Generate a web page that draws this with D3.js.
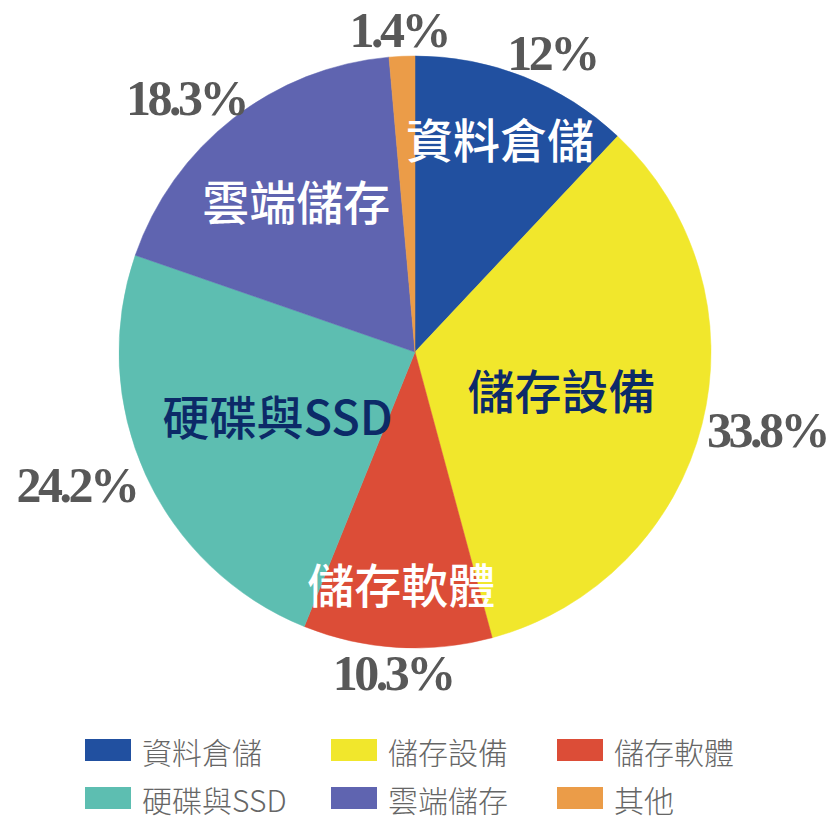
<!DOCTYPE html>
<html>
<head>
<meta charset="utf-8">
<script src="https://cdn.jsdelivr.net/npm/d3@7"></script>
<style>
  body { margin: 0; background: #fff; }
  svg { display: block; }
</style>
</head>
<body>
<div id="chart"></div>
<script>
// chart data
const categories = ["資料倉儲", "儲存設備", "儲存軟體", "硬碟與SSD", "雲端儲存", "其他"];
const shares = [12, 33.8, 10.3, 24.2, 18.3, 1.4];
const shareLabels = ["12%", "33.8%", "10.3%", "24.2%", "18.3%", "1.4%"];
const innerLabels = ["資料倉儲", "儲存設備", "儲存軟體", "硬碟與SSD", "雲端儲存", ""];
const colors = ["#2150a0", "#f1e72c", "#dc4d37", "#5dbeb1", "#5f64b0", "#eb9c48"];

// frame
const WIDTH = 831;
const HEIGHT = 823;
const CX = 415;
const CY = 352;
const R = 296;

const svg = d3.select("#chart")
  .append("svg")
    .attr("width", WIDTH)
    .attr("height", HEIGHT);

const rows = categories.map((c, i) => ({name: c, value: shares[i], pct: shareLabels[i],
  inner: innerLabels[i], color: colors[i]}));

const pie = d3.pie().value((d) => d.value).sort(null);
const arcs = pie(rows);
const arc = d3.arc().innerRadius(0).outerRadius(R);

const g = svg.append("g").attr("transform", `translate(${CX},${CY})`);

g.selectAll("path.slice")
  .data(arcs)
  .enter()
  .append("path")
    .attr("class", "slice")
    .attr("d", arc)
    .attr("fill", (d) => d.data.color)
    .attr("stroke", (d) => d.data.color)
    .attr("stroke-width", 0.5);

// labels inside the slices, thin slices get them further out
const innerRadius = d3.scaleLinear()
  .domain([12, 18, 24])
  .range([0.78, 0.66, 0.51])
  .clamp(true);

g.selectAll("text.inner")
  .data(arcs.filter((d) => d.data.inner))
  .enter()
  .append("text")
    .attr("class", "inner")
    .attr("transform", (d) => {
      const k = R * innerRadius(d.data.value);
      const c = d3.arc().innerRadius(k).outerRadius(k).centroid(d);
      return `translate(${c[0]},${c[1]})`;
    })
    .attr("text-anchor", "middle")
    .attr("dominant-baseline", "central")
    .attr("font-family", "'Noto Sans CJK TC', 'Noto Sans', sans-serif")
    .attr("font-weight", 500)
    .attr("font-size", 47)
    .attr("fill", (d) => d3.lab(d.data.color).l > 65 ? "#0c2a68" : "#ffffff")
    .text((d) => d.data.inner);

// percentage labels on an oval just outside the rim
const ORBIT_X = 372;
const ORBIT_Y = 322;
g.selectAll("text.pct")
  .data(arcs)
  .enter()
  .append("text")
    .attr("class", "pct")
    .attr("text-anchor", "middle")
    .attr("dominant-baseline", "central")
    .attr("font-family", "'Liberation Serif', 'DejaVu Serif', serif")
    .attr("font-weight", "bold")
    .attr("font-size", 50)
    .attr("letter-spacing", -3.5)
    .attr("fill", "#585858")
    .text((d) => d.data.pct)
    .attr("transform", function(d) {
      const a = (d.startAngle + d.endAngle) / 2;
      const w = this.getComputedTextLength();
      let x = ORBIT_X * Math.sin(a);
      const y = -ORBIT_Y * Math.cos(a);
      // keep it inside the frame
      x = Math.min(x, WIDTH - CX - w / 2 - 4);
      x = Math.max(x, -CX + w / 2 + 4);
      return `translate(${x},${y})`;
    });

// legend
const LEGEND_X = [85, 331, 557];
const LEGEND_Y = [750, 798];
const legend = svg.selectAll("g.legend")
  .data(rows)
  .enter()
  .append("g")
    .attr("class", "legend")
    .attr("transform", (d, i) => `translate(${LEGEND_X[i % 3]},${LEGEND_Y[Math.floor(i / 3)]})`);

legend.append("rect")
  .attr("x", 0)
  .attr("y", -11)
  .attr("width", 46)
  .attr("height", 22)
  .attr("fill", (d) => d.color);

legend.append("text")
  .attr("x", 57)
  .attr("y", 1)
  .attr("dominant-baseline", "central")
  .attr("font-family", "'Noto Sans CJK TC', 'Noto Sans', sans-serif")
  .attr("font-weight", 300)
  .attr("font-size", 30)
  .attr("fill", "#666")
  .text((d) => d.name);
</script>
</body>
</html>
